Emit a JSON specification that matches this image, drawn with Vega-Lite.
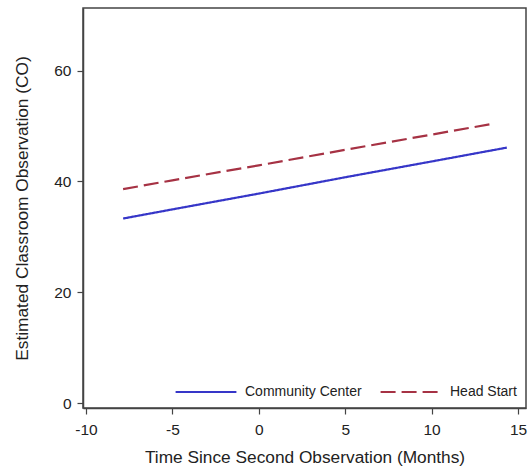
{
  "$schema": "https://vega.github.io/schema/vega-lite/v6.json",
  "autosize": "none",
  "width": 443,
  "height": 400,
  "padding": {"left": 83, "top": 8, "right": 3, "bottom": 59},
  "background": "white",
  "config": {
    "font": "Liberation Sans",
    "view": {"stroke": "#444444", "strokeWidth": 1.5},
    "axis": {
      "grid": false,
      "domainColor": "#444444",
      "domainWidth": 1.5,
      "tickColor": "#444444",
      "tickWidth": 1.2,
      "tickSize": 6,
      "labelFont": "Liberation Sans",
      "labelFontSize": 15.5,
      "labelColor": "#222222",
      "titleFont": "Liberation Sans",
      "titleFontSize": 17.3,
      "titleFontWeight": "normal",
      "titleColor": "#222222"
    }
  },
  "data": {
    "values": [
      {"time": -7.85, "co": 33.3, "group": "Community Center"},
      {"time": -5, "co": 34.95, "group": "Community Center"},
      {"time": 0, "co": 37.8, "group": "Community Center"},
      {"time": 5, "co": 40.75, "group": "Community Center"},
      {"time": 10, "co": 43.6, "group": "Community Center"},
      {"time": 14.35, "co": 46.1, "group": "Community Center"},
      {"time": -7.85, "co": 38.6, "group": "Head Start"},
      {"time": -5, "co": 40.2, "group": "Head Start"},
      {"time": 0, "co": 42.9, "group": "Head Start"},
      {"time": 5, "co": 45.7, "group": "Head Start"},
      {"time": 10, "co": 48.45, "group": "Head Start"},
      {"time": 13.35, "co": 50.3, "group": "Head Start"}
    ]
  },
  "mark": {"type": "line", "strokeWidth": 2.2, "clip": true},
  "encoding": {
    "x": {
      "field": "time",
      "type": "quantitative",
      "scale": {"domain": [-10.17, 15.46], "nice": false, "zero": false},
      "axis": {"values": [-10, -5, 0, 5, 10, 15], "title": "Time Since Second Observation (Months)", "labelExpr": "replace(datum.label, '\u2212', '-')", "labelPadding": 8, "titlePadding": 11, "labelFlush": false, "labelOverlap": false}
    },
    "y": {
      "field": "co",
      "type": "quantitative",
      "scale": {"domain": [-0.9, 71.3], "nice": false, "zero": false},
      "axis": {"values": [0, 20, 40, 60], "title": "Estimated Classroom Observation (CO)", "labelPadding": 6, "titlePadding": 22, "labelFlush": false, "labelOverlap": false}
    },
    "color": {
      "field": "group",
      "type": "nominal",
      "scale": {"domain": ["Community Center", "Head Start"], "range": ["#3636c8", "#a63244"]},
      "legend": {
        "title": null,
        "orient": "bottom-right",
        "direction": "horizontal",
        "offset": 9,
        "symbolType": "stroke",
        "symbolSize": 3700,
        "symbolStrokeWidth": 2.2,
        "labelFont": "Liberation Sans",
        "labelFontSize": 14,
        "labelColor": "#222222",
        "labelOffset": 7,
        "columnPadding": 14,
        "padding": 0
      }
    },
    "strokeDash": {
      "field": "group",
      "type": "nominal",
      "scale": {"domain": ["Community Center", "Head Start"], "range": [[1, 0], [15, 6]]},
      "legend": null
    }
  }
}
